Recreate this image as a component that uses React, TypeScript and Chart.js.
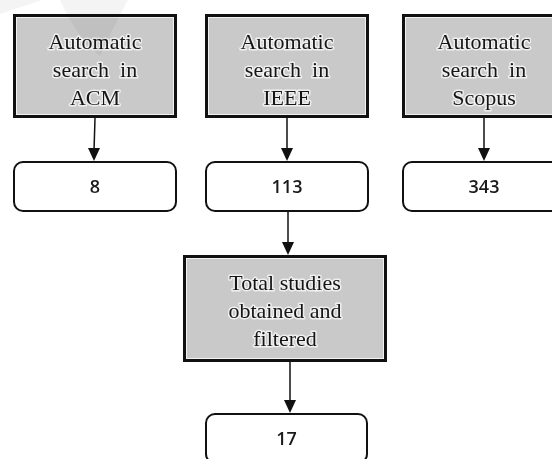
import React, { useEffect, useRef } from "react";
import { Chart, registerables } from "chart.js";

Chart.register(...registerables);

// ---- data ----
const sourceLabels: string[][] = [
  ["Automatic", "search  in", "ACM"],
  ["Automatic", "search  in", "IEEE"],
  ["Automatic", "search  in", "Scopus"],
];
const sourceCounts: number[] = [8, 113, 343];
const totalLabel: string[] = ["Total studies", "obtained and", "filtered"];
const totalCount: number[] = [17];

// ---- layout (pixel-space scale units) ----
const COL_X = [95, 287, 484];
const TOTAL_X = 285;
const BOX_W = 164;
const ROW_SRC = [14, 118];
const ROW_CNT = [161, 212];
const ROW_TOT = [255, 362];
const ROW_FIN = [413, 464];

const flowPlugin = {
  id: "flow",
  afterDraw(chart: any) {
    const ctx: CanvasRenderingContext2D = chart.ctx;
    const xs = chart.scales.x;
    const ys = chart.scales.y;
    const px = (v: number) => xs.getPixelForValue(v);
    const py = (v: number) => ys.getPixelForValue(v);

    const grayBox = (cx: number, y0: number, y1: number, w: number, lines: string[]) => {
      const l = px(cx - w / 2), r = px(cx + w / 2), t = py(y0), b = py(y1);
      ctx.save();
      ctx.fillStyle = "#c9c9c9";
      ctx.fillRect(l, t, r - l, b - t);
      ctx.strokeStyle = "#111";
      ctx.lineWidth = 3;
      ctx.strokeRect(l + 1.5, t + 1.5, r - l - 3, b - t - 3);
      ctx.strokeStyle = "#f2f2f2";
      ctx.lineWidth = 1;
      ctx.strokeRect(l + 3.5, t + 3.5, r - l - 7, b - t - 7);
      ctx.font = "22px 'Liberation Serif', 'Times New Roman', serif";
      ctx.textAlign = "center";
      ctx.textBaseline = "alphabetic";
      lines.forEach((s, i) => {
        const yy = t + 35 + i * 28;
        ctx.lineWidth = 3;
        ctx.strokeStyle = "rgba(255,255,255,0.7)";
        ctx.lineJoin = "round";
        ctx.strokeText(s, (l + r) / 2, yy);
        ctx.fillStyle = "#151515";
        ctx.fillText(s, (l + r) / 2, yy);
      });
      ctx.restore();
    };

    const roundBox = (cx: number, y0: number, y1: number, w: number, text: string) => {
      const l = px(cx - w / 2), r = px(cx + w / 2), t = py(y0), b = py(y1);
      ctx.save();
      ctx.beginPath();
      (ctx as any).roundRect(l + 1, t + 1, r - l - 2, b - t - 2, 9);
      ctx.fillStyle = "#ffffff";
      ctx.fill();
      ctx.strokeStyle = "#111";
      ctx.lineWidth = 2;
      ctx.stroke();
      ctx.font = "600 18px 'Open Sans', 'Liberation Sans', Arial, sans-serif";
      ctx.fillStyle = "#1a1a1a";
      ctx.textAlign = "center";
      ctx.textBaseline = "middle";
      ctx.fillText(text, (l + r) / 2, t + 27);
      ctx.restore();
    };

    const arrow = (x0: number, y0: number, x1: number, y1: number) => {
      const ax = px(x0), ay = py(y0), bx = px(x1), by = py(y1);
      ctx.save();
      ctx.strokeStyle = "#111";
      ctx.fillStyle = "#111";
      ctx.lineWidth = 1.5;
      ctx.beginPath();
      ctx.moveTo(ax, ay);
      ctx.lineTo(bx, by - 10);
      ctx.stroke();
      ctx.beginPath();
      ctx.moveTo(bx - 6, by - 13);
      ctx.lineTo(bx + 6, by - 13);
      ctx.lineTo(bx, by);
      ctx.closePath();
      ctx.fill();
      ctx.restore();
    };

    sourceLabels.forEach((lines, i) => {
      grayBox(COL_X[i], ROW_SRC[0], ROW_SRC[1], BOX_W, lines);
      arrow(COL_X[i], ROW_SRC[1], COL_X[i] - (i === 0 ? 1 : 0), ROW_CNT[0]);
      roundBox(COL_X[i], ROW_CNT[0], ROW_CNT[1], BOX_W, String(sourceCounts[i]));
    });
    arrow(COL_X[1] + 1, ROW_CNT[1], COL_X[1] + 1, ROW_TOT[0]);
    grayBox(TOTAL_X, ROW_TOT[0], ROW_TOT[1], 204, totalLabel);
    arrow(TOTAL_X + 5, ROW_TOT[1], TOTAL_X + 5, ROW_FIN[0]);
    roundBox(286.5, ROW_FIN[0], ROW_FIN[1], 163, String(totalCount[0]));

    // faint watermark
    ctx.save();
    ctx.fillStyle = "rgba(0,0,0,0.045)";
    ctx.beginPath();
    ctx.moveTo(px(60), py(0));
    ctx.quadraticCurveTo(px(75), py(35), px(100), py(56));
    ctx.quadraticCurveTo(px(112), py(30), px(128), py(0));
    ctx.closePath();
    ctx.fill();
    ctx.beginPath();
    ctx.moveTo(px(0), py(0));
    ctx.lineTo(px(42), py(0));
    ctx.lineTo(px(0), py(14));
    ctx.closePath();
    ctx.fill();
    ctx.restore();
  },
};

export default function App() {
  const ref = useRef<HTMLCanvasElement>(null);
  useEffect(() => {
    document.body.style.margin = "0";
    const chart = new Chart(ref.current!, {
      type: "scatter",
      data: {
        datasets: [
          {
            data: COL_X.map((x, i) => ({ x, y: (ROW_CNT[0] + ROW_CNT[1]) / 2, v: sourceCounts[i] })) as any,
            pointRadius: 0,
          },
        ],
      },
      options: {
        animation: false,
        responsive: false,
        events: [],
        layout: { padding: 0 },
        plugins: { legend: { display: false }, tooltip: { enabled: false } },
        scales: {
          x: { type: "linear", min: 0, max: 552, display: false },
          y: { type: "linear", min: 0, max: 459, reverse: true, display: false },
        },
      },
      plugins: [flowPlugin],
    });
    return () => chart.destroy();
  }, []);
  return (
    <div style={{ position: "fixed", left: 0, top: 0, width: 552, height: 459, background: "#fff" }}>
      <canvas ref={ref} width={552} height={459} style={{ width: 552, height: 459 }} />
    </div>
  );
}
